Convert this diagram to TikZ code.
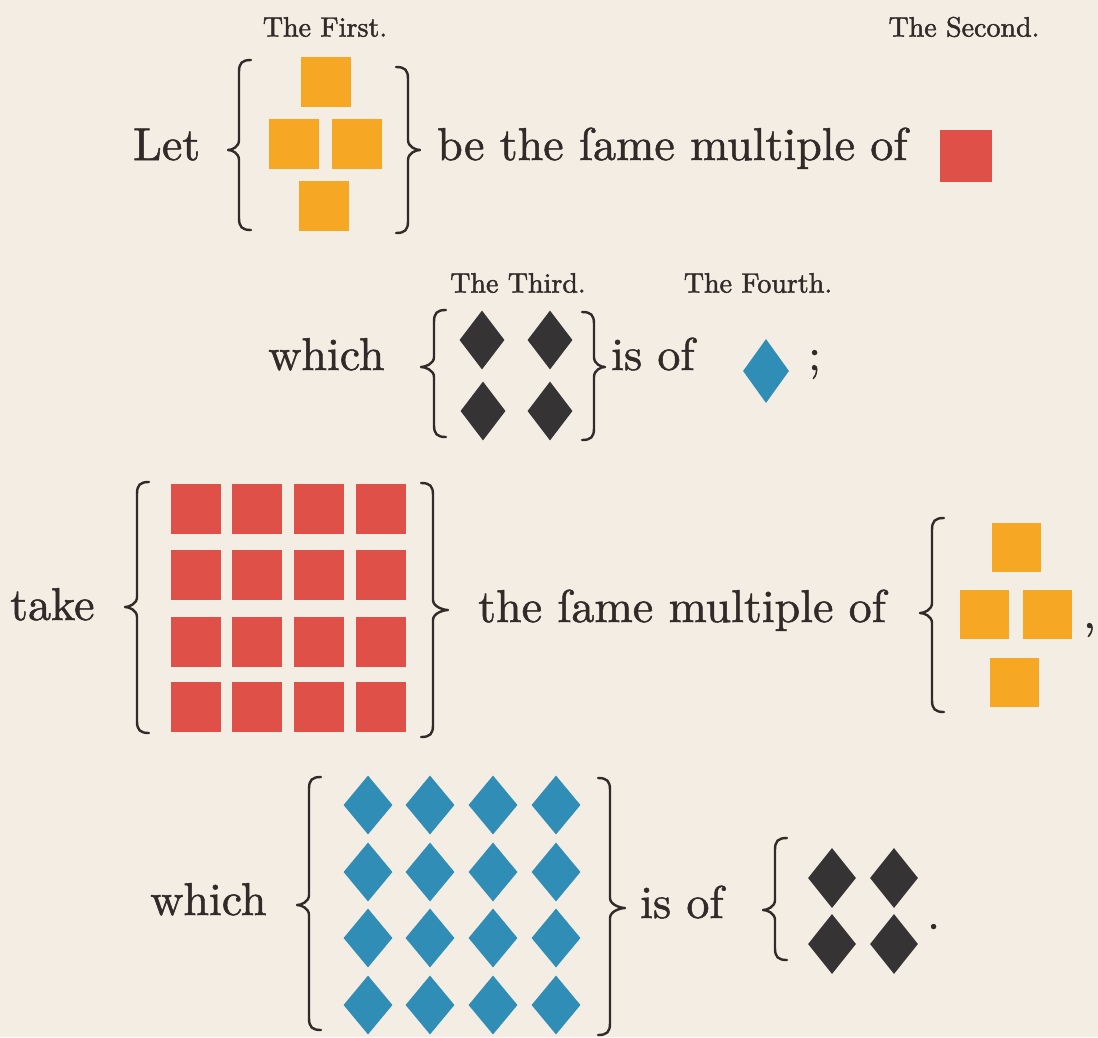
\documentclass[tikz,border=0pt]{standalone}
\usepackage{fontspec}
\newfontfamily\byfont{lmroman10-regular.otf}[FakeBold=1.1]
\newfontfamily\bylblfont{lmroman10-regular.otf}[FakeBold=1.6]
\usetikzlibrary{shapes.geometric}
\definecolor{paper}{HTML}{F3EDE4}
\definecolor{ink}{HTML}{302A28}
\definecolor{byorange}{HTML}{F6A824}
\definecolor{byred}{HTML}{DF5049}
\definecolor{byblue}{HTML}{2F8DB6}
\definecolor{byblack}{HTML}{353333}
% xv, xtip, ytop, ybottom, ymid, direction (1 = left brace, -1 = right brace)
\newcommand{\bybrace}[6]{%
 \draw[bracestyle] ({#1+12*(#6)},#3) .. controls ({#1+3*(#6)},#3) and (#1,{#3+3}) .. (#1,{#3+12})
   -- (#1,{#5-10}) .. controls (#1,{#5-3}) and ({#2+4*(#6)},#5) .. (#2,#5)
   .. controls ({#2+4*(#6)},#5) and (#1,{#5+3}) .. (#1,{#5+10})
   -- (#1,{#4-12}) .. controls (#1,{#4-3}) and ({#1+3*(#6)},#4) .. ({#1+12*(#6)},#4);}
\begin{document}
\begin{tikzpicture}[x=1pt,y=-1pt,
  txt/.style={font=\byfont\fontsize{46}{50}\selectfont, text=ink, inner sep=0pt, anchor=base west},
  lbl/.style={font=\bylblfont\fontsize{28}{30}\selectfont, text=ink, inner sep=0pt},
  osq/.style={rectangle, fill=byorange, draw=none, minimum size=50pt, inner sep=0pt},
  rsq/.style={rectangle, fill=byred, draw=none, minimum size=50pt, inner sep=0pt},
  kdia/.style={diamond, fill=byblack, draw=none, inner sep=0pt, minimum width=45pt, minimum height=59pt},
  bdia/.style={diamond, fill=byblue, draw=none, inner sep=0pt, minimum width=49pt, minimum height=59pt},
  bracestyle/.style={draw=ink, line width=2.4pt, line cap=round, line join=round}]
\useasboundingbox (0,0) rectangle (1098,1037);
\fill[paper] (0,0) rectangle (1098,1037);

% ---- labels
\node[lbl] (first) at (325,27) {The First.};
\node[lbl] (second) at (964,27) {The Second.};
\node[lbl] (third) at (518,283) {The Third.};
\node[lbl] (fourth) at (758,283) {The Fourth.};

% ---- row 1
\node[txt] (let) at (133,160) {Let};
\bybrace{239}{228}{60}{230}{150}{1}
\node[osq] (a1) at (326,82) {};
\node[osq] (a2) at (294,144) {};
\node[osq] (a3) at (357,144) {};
\node[osq] (a4) at (324,206) {};
\bybrace{408}{420}{67}{233}{150}{-1}
\node[txt] (same1) at (437,160) {be the ſame multiple of};
\node[rsq, minimum size=52pt] (b1) at (966,156) {};

% ---- row 2
\node[txt] (which1) at (268,370) {which};
\bybrace{434}{421}{310}{437}{367}{1}
\node[kdia] (c1) at (482,340) {};
\node[kdia] (c2) at (550,340) {};
\node[kdia] (c3) at (483,411) {};
\node[kdia] (c4) at (550,411) {};
\bybrace{594}{605}{312}{440}{367}{-1}
\node[txt] (isof1) at (611,370) {is of};
\node[bdia, minimum width=46pt, minimum height=64pt] (d1) at (766,371) {};
\node[txt] (semi) at (808,370) {;};

% ---- row 3
\node[txt] (take) at (10,620) {take};
\bybrace{137}{125}{482}{733}{607}{1}
\foreach \i/\x in {1/196,2/257,3/319,4/381}
  \foreach \j/\y in {1/509,2/575,3/642,4/707}
    \node[rsq] (e\i\j) at (\x,\y) {};
\bybrace{433}{448}{483}{737}{610}{-1}
\node[txt] (same2) at (478,622) {the ſame multiple of};
\bybrace{932}{920}{518}{712}{613}{1}
\node[osq, minimum size=49pt] (f1) at (1016,547) {};
\node[osq, minimum size=49pt] (f2) at (984,614) {};
\node[osq, minimum size=49pt] (f3) at (1047,614) {};
\node[osq, minimum size=49pt] (f4) at (1014,682) {};
\node[txt] (comma) at (1083,628) {,};

% ---- row 4
\node[txt] (which2) at (150,915) {which};
\bybrace{309}{297}{777}{1030}{905}{1}
\foreach \i/\x in {1/368,2/430,3/493,4/556}
  \foreach \j/\y in {1/805,2/872,3/938,4/1005}
    \node[bdia] (g\i\j) at (\x,\y) {};
\bybrace{610}{625}{778}{1035}{908}{-1}
\node[txt] (isof2) at (640,918) {is of};
\bybrace{775}{763}{838}{960}{910}{1}
\node[kdia, minimum width=48pt, minimum height=60pt] (h1) at (832,878) {};
\node[kdia, minimum width=48pt, minimum height=60pt] (h2) at (894,878) {};
\node[kdia, minimum width=48pt, minimum height=60pt] (h3) at (832,944) {};
\node[kdia, minimum width=48pt, minimum height=60pt] (h4) at (894,944) {};
\node[txt] (period) at (927,929) {.};
\end{tikzpicture}
\end{document}
